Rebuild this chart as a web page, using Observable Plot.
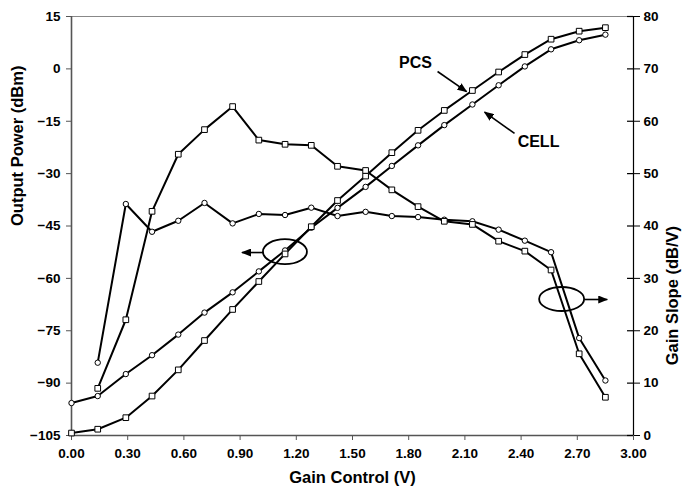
<!DOCTYPE html>
<html><head><meta charset="utf-8">
<script src="https://cdn.jsdelivr.net/npm/d3@7"></script>
<script src="https://cdn.jsdelivr.net/npm/@observablehq/plot@0.6"></script>
<style>
body{margin:0;background:#fff}
#chart svg{font-family:"Liberation Sans",Arial,sans-serif;font-weight:bold}
</style>
</head><body><div id="chart"></div>
<script>
// Gain control voltage (V)
const gainControl = [0.00,0.14,0.29,0.43,0.57,0.71,0.86,1.00,1.14,1.28,1.42,1.57,1.71,1.85,1.99,2.14,2.28,2.42,2.56,2.71,2.85];
// Output power (dBm), left axis
const powerPCS  = [-104.3,-103.2,-99.9,-93.7,-86.2,-77.8,-68.9,-60.9,-53.0,-45.2,-37.7,-30.7,-24.0,-17.6,-11.9,-6.2,-0.9,4.1,8.5,10.8,11.8];
const powerCELL = [-95.7,-93.7,-87.4,-82.0,-76.1,-69.8,-64.0,-58.0,-52.0,-45.5,-39.8,-33.8,-27.8,-21.9,-16.1,-10.2,-4.7,0.7,5.6,8.2,9.8];
// Gain slope (dB/V), right axis
const slopePCS  = [null,9.0,22.1,42.8,53.7,58.4,62.8,56.4,55.6,55.4,51.4,50.6,46.9,43.7,40.9,40.3,37.1,35.2,31.6,15.6,7.3];
const slopeCELL = [null,13.9,44.2,38.9,41.0,44.4,40.5,42.3,42.1,43.5,41.9,42.7,41.9,41.7,41.2,40.9,39.3,37.2,35.0,18.6,10.5];
// Tick labels
const xTicks = [0,0.3,0.6,0.9,1.2,1.5,1.8,2.1,2.4,2.7,3.0];
const powerTicks = [-105,-90,-75,-60,-45,-30,-15,0,15];
const slopeTicks = [0,10,20,30,40,50,60,70,80];

// right axis mapped onto left axis units
const toLeft = s => s == null ? NaN : -105 + s * 120 / 80;
const rows = gainControl.map((x, i) => ({
  x, pPCS: powerPCS[i], pCELL: powerCELL[i], sPCS: toLeft(slopePCS[i]), sCELL: toLeft(slopeCELL[i])
}));

const annotations = [
  {text: "PCS", x: 1.836, y: 1.6},
  {text: "CELL", x: 2.493, y: -20.8}
];
const arrows = [
  {x1: 1.954, y1: -0.75, x2: 2.109, y2: -6.5},
  {x1: 2.365, y1: -18.5, x2: 2.205, y2: -12.4},
  {x1: 1.025, y1: -52.6, x2: 0.910, y2: -52.6},
  {x1: 2.739, y1: -66.05, x2: 2.860, y2: -66.05}
];
const ellipses = [
  {x: 1.142, y: -52.5, rx: 22, ry: 12.5},
  {x: 2.619, y: -66.05, rx: 22.5, ry: 12}
];

const plot = Plot.plot({
  width: 682, height: 492,
  marginLeft: 71, marginRight: 49, marginTop: 16, marginBottom: 57,
  style: {fontFamily: '"Liberation Sans", Arial, sans-serif', fontSize: "13px", fontWeight: "bold", background: "#fff", overflow: "visible"},
  x: {domain: [0, 3]},
  y: {domain: [-105, 15]},
  marks: [
    Plot.ruleY([15], {stroke: "#888", strokeWidth: 1}),
    Plot.ruleX([0], {stroke: "#555", strokeWidth: 1.6}),
    Plot.ruleY([-105], {stroke: "#555", strokeWidth: 1.6}),
    Plot.ruleX([3], {stroke: "#000", strokeWidth: 1.2}),
    Plot.ruleY(powerTicks, {x1: 2.968, x2: 3, stroke: "#000", strokeWidth: 1.2}),
    Plot.axisX(xTicks, {tickSize: 5, tickPadding: 8, tickFormat: d3.format(".2f"), fontSize: 13.5, fontWeight: "bold", stroke: "#555", label: null}),
    Plot.axisY(powerTicks, {anchor: "left", tickSize: 5, tickPadding: 6, fontSize: 13.5, fontWeight: "bold", stroke: "#555", label: null}),
    Plot.axisY(powerTicks, {anchor: "right", tickSize: 6, tickPadding: 4, fontSize: 13.5, fontWeight: "bold", stroke: "#000",
      tickFormat: (d, i) => String(slopeTicks[i]), label: null}),
    Plot.text(["Gain Control (V)"], {frameAnchor: "bottom", dy: 47, fontSize: 16.5, fontWeight: "bold", fill: "#000"}),
    Plot.text(["Output Power (dBm)"], {frameAnchor: "left", dx: -54, rotate: -90, fontSize: 16.5, fontWeight: "bold", fill: "#000"}),
    Plot.text(["Gain Slope (dB/V)"], {frameAnchor: "right", dx: 39, rotate: -90, fontSize: 16.5, fontWeight: "bold", fill: "#000"}),
    Plot.line(rows, {x: "x", y: "pCELL", stroke: "#000", strokeWidth: 2}),
    Plot.line(rows, {x: "x", y: "pPCS", stroke: "#000", strokeWidth: 2}),
    Plot.line(rows, {x: "x", y: "sCELL", stroke: "#000", strokeWidth: 2}),
    Plot.line(rows, {x: "x", y: "sPCS", stroke: "#000", strokeWidth: 2}),
    Plot.dot(rows, {x: "x", y: "pCELL", r: 2.7, symbol: "circle", fill: "#fff", stroke: "#000", strokeWidth: 1}),
    Plot.dot(rows, {x: "x", y: "sCELL", r: 2.7, symbol: "circle", fill: "#fff", stroke: "#000", strokeWidth: 1}),
    Plot.dot(rows, {x: "x", y: "pPCS", r: 3.2, symbol: "square", fill: "#fff", stroke: "#000", strokeWidth: 1}),
    Plot.dot(rows, {x: "x", y: "sPCS", r: 3.2, symbol: "square", fill: "#fff", stroke: "#000", strokeWidth: 1}),
    Plot.link(arrows, {x1: "x1", y1: "y1", x2: "x2", y2: "y2", stroke: "#000", strokeWidth: 1.6}),
    Plot.text(annotations, {x: "x", y: "y", text: "text", fontSize: 16, fontWeight: "bold", fill: "#000"})
  ]
});

// filled arrowheads and ellipses placed through the plot's own scales
const ns = "http://www.w3.org/2000/svg";
const defs = document.createElementNS(ns, "defs");
defs.innerHTML = '<marker id="ah" viewBox="0 0 10 8" refX="9" refY="4" markerWidth="10" markerHeight="8" markerUnits="userSpaceOnUse" orient="auto"><path d="M0,0L10,4L0,8Z" fill="#000"/></marker>';
plot.insertBefore(defs, plot.firstChild);
plot.querySelectorAll('g[aria-label="link"] path').forEach(p => p.setAttribute("marker-end", "url(#ah)"));
const sx = plot.scale("x"), sy = plot.scale("y");
const g = document.createElementNS(ns, "g");
for (const e of ellipses) {
  const el = document.createElementNS(ns, "ellipse");
  el.setAttribute("cx", sx.apply(e.x));
  el.setAttribute("cy", sy.apply(e.y));
  el.setAttribute("rx", e.rx);
  el.setAttribute("ry", e.ry);
  el.setAttribute("fill", "none");
  el.setAttribute("stroke", "#000");
  el.setAttribute("stroke-width", 1.8);
  g.appendChild(el);
}
plot.appendChild(g);
document.getElementById("chart").appendChild(plot);
</script>
</body></html>
